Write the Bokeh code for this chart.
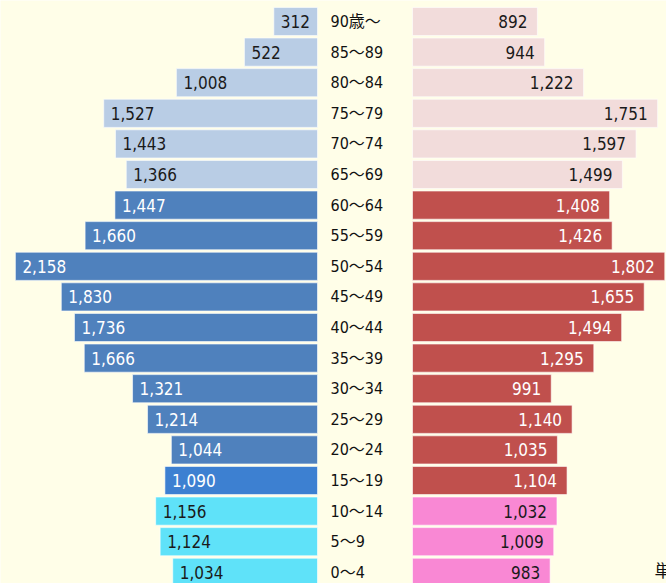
from bokeh.plotting import figure
from bokeh.models import ColumnDataSource, Range1d
from bokeh.core.properties import value
from bokeh.embed import file_html
from bokeh.resources import INLINE

# ---- data (bottom to top) ----
ages = ["0～4", "5～9", "10～14", "15～19", "20～24", "25～29", "30～34", "35～39",
        "40～44", "45～49", "50～54", "55～59", "60～64", "65～69", "70～74",
        "75～79", "80～84", "85～89", "90歳～"]
male = [1034, 1124, 1156, 1090, 1044, 1214, 1321, 1666, 1736, 1830, 2158, 1660,
        1447, 1366, 1443, 1527, 1008, 522, 312]
female = [983, 1009, 1032, 1104, 1035, 1140, 991, 1295, 1494, 1655, 1802, 1426,
          1408, 1499, 1597, 1751, 1222, 944, 892]
unit_label = "単位：人"

# ---- styles ----
BG = "#fffee8"
M_CHILD, F_CHILD = "#5fe2f9", "#f988d4"
M_TEEN = "#3d80d1"
M_WORK, F_WORK = "#4f81bd", "#c0504d"
M_OLD, F_OLD = "#b9cde5", "#f2dcdb"


def male_color(i):
    if i <= 2:
        return M_CHILD
    if i == 3:
        return M_TEEN
    if i <= 12:
        return M_WORK
    return M_OLD


def female_color(i):
    if i <= 2:
        return F_CHILD
    if i <= 12:
        return F_WORK
    return F_OLD


def text_color(i):
    return "#ffffff" if 3 <= i <= 12 else "#1a1a1a"


W, H = 666, 583
PX = 0.14             # pixels per person
ZERO_PX = 317         # male base in figure pixels
GAP = 95 / PX         # gap between male base and female base
M_IN = 7 / PX
F_IN = 10 / PX
AGE_OFF = 13 / PX

idx = list(range(len(ages)))
src = ColumnDataSource(dict(
    y=idx,
    age=ages,
    m_left=[-v for v in male],
    m_right=[0] * len(male),
    f_left=[GAP] * len(female),
    f_right=[GAP + v for v in female],
    m_lab_x=[-v + M_IN for v in male],
    f_lab_x=[GAP + v - F_IN for v in female],
    m_txt=[f"{v:,}" for v in male],
    f_txt=[f"{v:,}" for v in female],
    age_x=[AGE_OFF] * len(ages),
    mc=[male_color(i) for i in idx],
    fc=[female_color(i) for i in idx],
    tc=[text_color(i) for i in idx],
))

x_start = -ZERO_PX / PX
x_end = (W - ZERO_PX) / PX
pitch = 30.6
y_top = 18 + 21 / pitch
y_bot = y_top - H / pitch

p = figure(width=W, height=H, output_backend="svg", toolbar_location=None,
           x_range=Range1d(x_start, x_end), y_range=Range1d(y_bot, y_top),
           x_axis_location=None, y_axis_location=None, min_border=0,
           background_fill_color=BG, border_fill_color=BG, outline_line_color=None)
p.xgrid.visible = False
p.ygrid.visible = False

p.hbar(y="y", left="m_left", right="m_right", height=0.92, fill_color="mc",
       line_color="white", line_alpha=0.6, line_width=1, source=src)
p.hbar(y="y", left="f_left", right="f_right", height=0.92, fill_color="fc",
       line_color="white", line_alpha=0.6, line_width=1, source=src)

FONT = value("DejaVu Sans Condensed, Noto Sans CJK JP, sans-serif")
p.text(x="m_lab_x", y="y", text="m_txt", text_align="left", text_baseline="middle",
       text_color="tc", text_font=FONT, text_font_size=value("17px"), source=src)
p.text(x="f_lab_x", y="y", text="f_txt", text_align="right", text_baseline="middle",
       text_color="tc", text_font=FONT, text_font_size=value("17px"), source=src)
p.text(x="age_x", y="y", text="age", text_align="left", text_baseline="middle",
       text_color="#111111", text_font=FONT, text_font_size=value("16px"), source=src)

p.text(x=[(654 - ZERO_PX) / PX], y=[0.1], text=[unit_label], text_align="left",
       text_baseline="middle", text_color="#111111",
       text_font=value("Noto Sans CJK JP"), text_font_size=value("17px"))

open("out.html", "w").write(file_html(p, INLINE))
